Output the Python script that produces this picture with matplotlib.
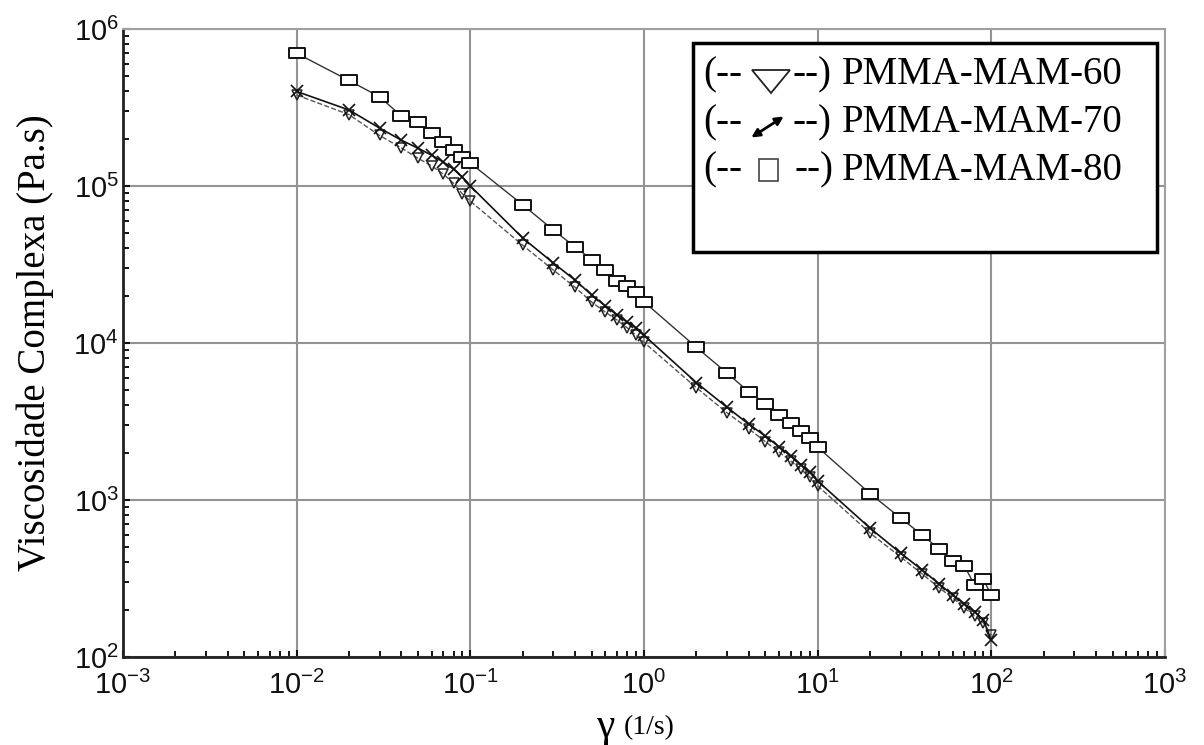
import matplotlib
matplotlib.use("Agg")
import matplotlib.pyplot as plt
from matplotlib.path import Path
from matplotlib.patches import Rectangle, Polygon, FancyArrowPatch
from matplotlib.ticker import FuncFormatter, NullFormatter, LogLocator
from matplotlib.transforms import Affine2D
import numpy as np

plt.rcParams['font.family'] = 'Liberation Sans'
plt.rcParams['axes.unicode_minus'] = False

# --------------- [Data] --------------- #
shear_rate = [0.01, 0.02, 0.03, 0.04, 0.05, 0.06, 0.07, 0.08, 0.09, 0.1,
              0.2, 0.3, 0.4, 0.5, 0.6, 0.7, 0.8, 0.9, 1,
              2, 3, 4, 5, 6, 7, 8, 9, 10,
              20, 30, 40, 50, 60, 70, 80, 90, 100]

visc_60 = [3.8e5, 2.85e5, 2.1e5, 1.75e5, 1.5e5, 1.34e5, 1.19e5, 1.04e5, 8.9e4, 8.0e4,
           4.2e4, 2.92e4, 2.27e4, 1.82e4, 1.57e4, 1.4e4, 1.25e4, 1.12e4, 1.01e4,
           5.2e3, 3.6e3, 2.85e3, 2.35e3, 2.02e3, 1.77e3, 1.57e3, 1.4e3, 1.23e3,
           617, 434, 338, 276, 238, 205, 183, 165, 138]

visc_70 = [4.0e5, 3.05e5, 2.34e5, 1.96e5, 1.74e5, 1.57e5, 1.42e5, 1.28e5, 1.14e5, 1.0e5,
           4.67e4, 3.24e4, 2.52e4, 2.02e4, 1.72e4, 1.51e4, 1.36e4, 1.25e4, 1.12e4,
           5.6e3, 3.9e3, 3.05e3, 2.55e3, 2.18e3, 1.9e3, 1.68e3, 1.5e3, 1.32e3,
           663, 459, 358, 292, 248, 218, 194, 172, 128]

visc_80 = [7.0e5, 4.7e5, 3.7e5, 2.8e5, 2.56e5, 2.18e5, 1.9e5, 1.7e5, 1.53e5, 1.4e5,
           7.6e4, 5.25e4, 4.1e4, 3.4e4, 2.9e4, 2.5e4, 2.3e4, 2.1e4, 1.83e4,
           9.4e3, 6.45e3, 4.9e3, 4.1e3, 3.5e3, 3.1e3, 2.75e3, 2.5e3, 2.17e3,
           1.1e3, 768, 598, 488, 409, 380, 288, 312, 248]

x_exponents = [-3, -2, -1, 0, 1, 2, 3]
y_exponents = [2, 3, 4, 5, 6]
legend_labels = ["PMMA-MAM-60", "PMMA-MAM-70", "PMMA-MAM-80"]

# --------------- [Figure] --------------- #
W, H = 1204, 745
fig = plt.figure(figsize=(W / 100, H / 100), dpi=100)
ax = fig.add_axes([123 / W, 1 - 657 / H, (1165 - 123) / W, (657 - 29) / H])
# pixel coords (from top-left) -> figure
px = Affine2D().scale(1 / W, -1 / H).translate(0, 1) + fig.transFigure

rect_marker = Path([(-1, -0.6), (1, -0.6), (1, 0.6), (-1, 0.6), (-1, -0.6)],
                   [Path.MOVETO, Path.LINETO, Path.LINETO, Path.LINETO, Path.CLOSEPOLY])

ax.plot(shear_rate, visc_60, color='#555555', ls='--', lw=1.0, marker='v', ms=7,
        mfc='none', mec='#222222', mew=1.1, zorder=3)
ax.plot(shear_rate, visc_70, color='#111111', ls='-', lw=1.2, marker='x', ms=8,
        mec='#111111', mew=1.2, zorder=4)
ax.plot(shear_rate, visc_80, color='#333333', ls='-', lw=1.0, marker=rect_marker, ms=11,
        mfc='white', mec='#111111', mew=1.4, zorder=5)

ax.set_xscale('log')
ax.set_yscale('log')
ax.set_xlim(10.0 ** x_exponents[0], 10.0 ** x_exponents[-1])
ax.set_ylim(10.0 ** y_exponents[0], 10.0 ** y_exponents[-1])
ax.set_xticks([10.0 ** e for e in x_exponents])
ax.set_yticks([10.0 ** e for e in y_exponents])
ax.xaxis.set_minor_locator(LogLocator(base=10, subs=np.arange(2, 10), numticks=20))
ax.yaxis.set_minor_locator(LogLocator(base=10, subs=np.arange(2, 10), numticks=20))
pow_fmt = FuncFormatter(lambda v, pos: r'$\mathregular{10^{%d}}$' % int(round(np.log10(v))))
ax.xaxis.set_major_formatter(pow_fmt)
ax.yaxis.set_major_formatter(pow_fmt)
ax.xaxis.set_minor_formatter(NullFormatter())
ax.yaxis.set_minor_formatter(NullFormatter())
ax.grid(True, which='major', color='#939393', lw=1.5)
ax.set_axisbelow(True)

for s in ['left', 'bottom']:
    ax.spines[s].set_color('#222222')
    ax.spines[s].set_linewidth(2.0)
for s in ['top', 'right']:
    ax.spines[s].set_color('#a0a0a0')
    ax.spines[s].set_linewidth(1.5)

ax.tick_params(which='major', direction='in', length=5, width=1.5, labelsize=21,
               colors='#111111', top=False, right=False)
ax.tick_params(which='minor', direction='in', length=4, width=1.3, top=False, right=False)
ax.tick_params(axis='x', pad=10)
ax.tick_params(axis='y', pad=3)
for lbl in ax.get_yticklabels():
    lbl.set_verticalalignment('center_baseline')

ax.set_ylabel("Viscosidade Complexa (Pa.s)", family='Liberation Serif', fontsize=28, labelpad=14)

# x label: big gamma + smaller unit
fig.text(605, 737, "γ", transform=px, family='Liberation Serif', fontsize=30,
         ha='center', va='baseline')
fig.text(624, 734, "(1/s)", transform=px, family='Liberation Serif', fontsize=20,
         ha='left', va='baseline')

# --------------- [Legend box] --------------- #
fig.add_artist(Rectangle((693, 43), 464, 209, transform=px, fill=True, fc='white',
                         ec='black', lw=2.5, zorder=10))

row_y = [75, 123, 170]
for i, lab in enumerate(legend_labels):
    fig.text(703, row_y[i], "(--", transform=px, family='Liberation Serif', fontsize=28,
             va='center', ha='left', zorder=11)
    fig.text(792 if i < 2 else 795, row_y[i], "--)", transform=px, family='Liberation Serif',
             fontsize=28, va='center', ha='left', zorder=11)
    fig.text(842, row_y[i], lab, transform=px, family='Liberation Serif', fontsize=28,
             va='center', ha='left', zorder=11)

fig.add_artist(Polygon([(752, 70), (790, 70), (771, 93)], closed=True, fill=False,
                       ec='#222222', lw=1.3, transform=px, zorder=11))
fig.add_artist(FancyArrowPatch((749, 139), (786, 115), transform=px, arrowstyle='<|-|>',
                               color='black', lw=2, mutation_scale=12, zorder=11))
fig.add_artist(Rectangle((759, 159), 19, 22, transform=px, fill=False, ec='#444444',
                         lw=1.2, zorder=11))

fig.savefig("out.png", dpi=100)
